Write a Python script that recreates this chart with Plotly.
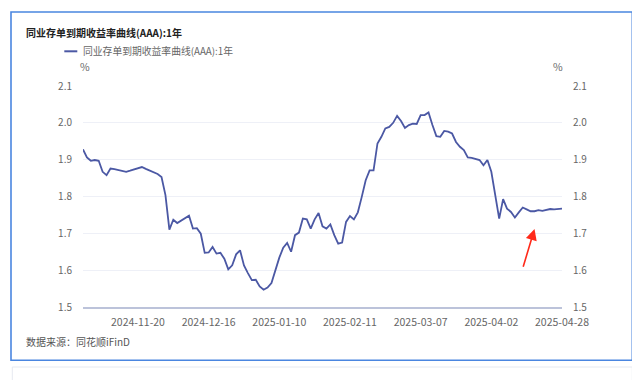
import pandas as pd
import plotly.graph_objects as go

# ---- data ----
start_date = "2024-10-31"
end_date = "2025-04-28"
holidays = ["2025-01-01", "2025-01-28", "2025-01-29", "2025-01-30", "2025-01-31",
            "2025-02-03", "2025-02-04", "2025-04-04"]
makeup_days = ["2025-01-26", "2025-02-08", "2025-04-27"]

days = set(pd.bdate_range(start_date, end_date).strftime("%Y-%m-%d"))
dates = sorted((days - set(holidays)) | set(makeup_days))

yields = [
    1.928, 1.906, 1.897, 1.899, 1.897, 1.867, 1.858, 1.876, 1.874, 1.871,
    1.869, 1.867, 1.870, 1.873, 1.877, 1.880, 1.875, 1.871, 1.867, 1.861,
    1.853, 1.804, 1.710, 1.737, 1.728, 1.735, 1.742, 1.748, 1.713, 1.714,
    1.699, 1.647, 1.648, 1.663, 1.645, 1.647, 1.631, 1.602, 1.613, 1.643,
    1.654, 1.613, 1.592, 1.573, 1.574, 1.556, 1.547, 1.553, 1.565, 1.602,
    1.634, 1.661, 1.674, 1.650, 1.695, 1.702, 1.740, 1.738, 1.713, 1.738,
    1.755, 1.719, 1.713, 1.724, 1.695, 1.672, 1.675, 1.731, 1.747, 1.738,
    1.757, 1.799, 1.844, 1.871, 1.871, 1.944, 1.962, 1.985, 1.989, 2.000,
    2.019, 2.005, 1.986, 1.994, 1.998, 1.997, 2.021, 2.021, 2.028, 1.994,
    1.964, 1.962, 1.978, 1.976, 1.971, 1.948, 1.935, 1.926, 1.906, 1.905,
    1.901, 1.899, 1.885, 1.899, 1.867, 1.799, 1.740, 1.793, 1.767, 1.758,
    1.743, 1.757, 1.770, 1.765, 1.760, 1.760, 1.763, 1.761, 1.763, 1.766,
    1.765, 1.765, 1.767,
]

tick_labels = ["2024-11-20", "2024-12-16", "2025-01-10", "2025-02-11",
               "2025-03-07", "2025-04-02", "2025-04-28"]
y_ticks = [1.5, 1.6, 1.7, 1.8, 1.9, 2.0, 2.1]
y_tick_text = ["1.5", "1.6", "1.7", "1.8", "1.9", "2.0", "2.1"]

series_name = "同业存单到期收益率曲线(AAA):1年"
title_text = "同业存单到期收益率曲线(AAA):1年"
source_text = "数据来源：同花顺iFinD"

# arrow annotation (tail -> head), in data terms
arrow_tail = (dates[112], 1.605)
arrow_head = (dates[115], 1.712)

# ---- figure ----
FONT = "Noto Sans CJK SC, Microsoft YaHei, sans-serif"
LINE_COLOR = "#4b58a4"
OFF = 8  # page body margin
W, H = 640 - OFF, 380 - OFF
L = 82.7 - OFF
T = 85.7 - OFF
R = W - (561.7 - OFF)
B = H - (306.7 - OFF)
pw, ph = W - L - R, H - T - B

def px(x):
    return (x - OFF - L) / pw

def py(y):
    return (H - B - (y - OFF)) / ph

fig = go.Figure()
fig.add_trace(go.Scatter(
    x=dates, y=yields, mode="lines", name=series_name,
    line=dict(color=LINE_COLOR, width=1.8), showlegend=False,
))
fig.add_trace(go.Scatter(
    x=dates, y=yields, mode="lines", yaxis="y2", hoverinfo="skip",
    line=dict(color="rgba(0,0,0,0)", width=0), showlegend=False,
))

fig.update_layout(
    width=W, height=H,
    margin=dict(l=L, r=R, t=T, b=B, pad=0),
    paper_bgcolor="white", plot_bgcolor="white",
    font=dict(family=FONT, size=11, color="#666666"),
    xaxis=dict(
        type="category", range=[0, len(dates) - 1],
        tickmode="array", tickvals=tick_labels, ticktext=tick_labels,
        showgrid=False, zeroline=False,
        showline=True, linecolor="#bcc3da", linewidth=2,
        ticks="outside", ticklen=4, tickcolor="rgba(0,0,0,0)",
        tickfont=dict(size=10.5, color="#666666"),
    ),
    yaxis=dict(
        range=[1.5, 2.1], tickvals=y_ticks, ticktext=y_tick_text,
        showgrid=True, gridcolor="#eef0f7", gridwidth=1, zeroline=False,
        showline=False,
        ticks="outside", ticklen=8, tickcolor="rgba(0,0,0,0)",
        tickfont=dict(size=10, color="#666666"),
    ),
    yaxis2=dict(
        range=[1.5, 2.1], tickvals=y_ticks, ticktext=y_tick_text,
        overlaying="y", side="right", showgrid=False, zeroline=False,
        showline=False,
        ticks="outside", ticklen=8, tickcolor="rgba(0,0,0,0)",
        tickfont=dict(size=10, color="#666666"),
    ),
    hovermode=False,
)

annotations = [
    dict(x=px(24), y=py(32), xref="paper", yref="paper", xanchor="left", yanchor="middle",
         text="<b>" + title_text + "</b>", showarrow=False,
         font=dict(size=10, color="#222222", family=FONT)),
    dict(x=px(81), y=py(51), xref="paper", yref="paper", xanchor="left", yanchor="middle",
         text=series_name, showarrow=False,
         font=dict(size=9.8, color="#666666", family=FONT)),
    dict(x=px(85), y=py(66), xref="paper", yref="paper", xanchor="center", yanchor="middle",
         text="%", showarrow=False, font=dict(size=10.5, color="#666666", family=FONT)),
    dict(x=px(558), y=py(66), xref="paper", yref="paper", xanchor="center", yanchor="middle",
         text="%", showarrow=False, font=dict(size=10.5, color="#666666", family=FONT)),
    dict(x=px(24), y=py(341), xref="paper", yref="paper", xanchor="left", yanchor="middle",
         text=source_text, showarrow=False,
         font=dict(size=10, color="#555555", family=FONT)),
    dict(x=arrow_head[0], y=arrow_head[1], xref="x", yref="y",
         ax=arrow_tail[0], ay=arrow_tail[1], axref="x", ayref="y",
         text="", showarrow=True, arrowhead=2, arrowsize=1.4, arrowwidth=1.6,
         arrowcolor="#ff2a1a"),
]
fig.update_layout(annotations=annotations)

shapes = [
    # outer blue frame
    dict(type="rect", xref="paper", yref="paper",
         x0=px(10.7), x1=px(632), y0=py(360), y1=py(11.7),
         line=dict(color="#4a86e0", width=1.6), fillcolor="rgba(0,0,0,0)", layer="above"),
    # box below
    dict(type="rect", xref="paper", yref="paper",
         x0=px(12), x1=px(632), y0=py(392), y1=py(366.7),
         line=dict(color="#e6e9f0", width=1), fillcolor="rgba(0,0,0,0)", layer="above"),
    # legend line sample
    dict(type="line", xref="paper", yref="paper",
         x0=px(64), x1=px(77), y0=py(51), y1=py(51),
         line=dict(color=LINE_COLOR, width=2)),
]
fig.update_layout(shapes=shapes)

fig.write_html("out.html")
